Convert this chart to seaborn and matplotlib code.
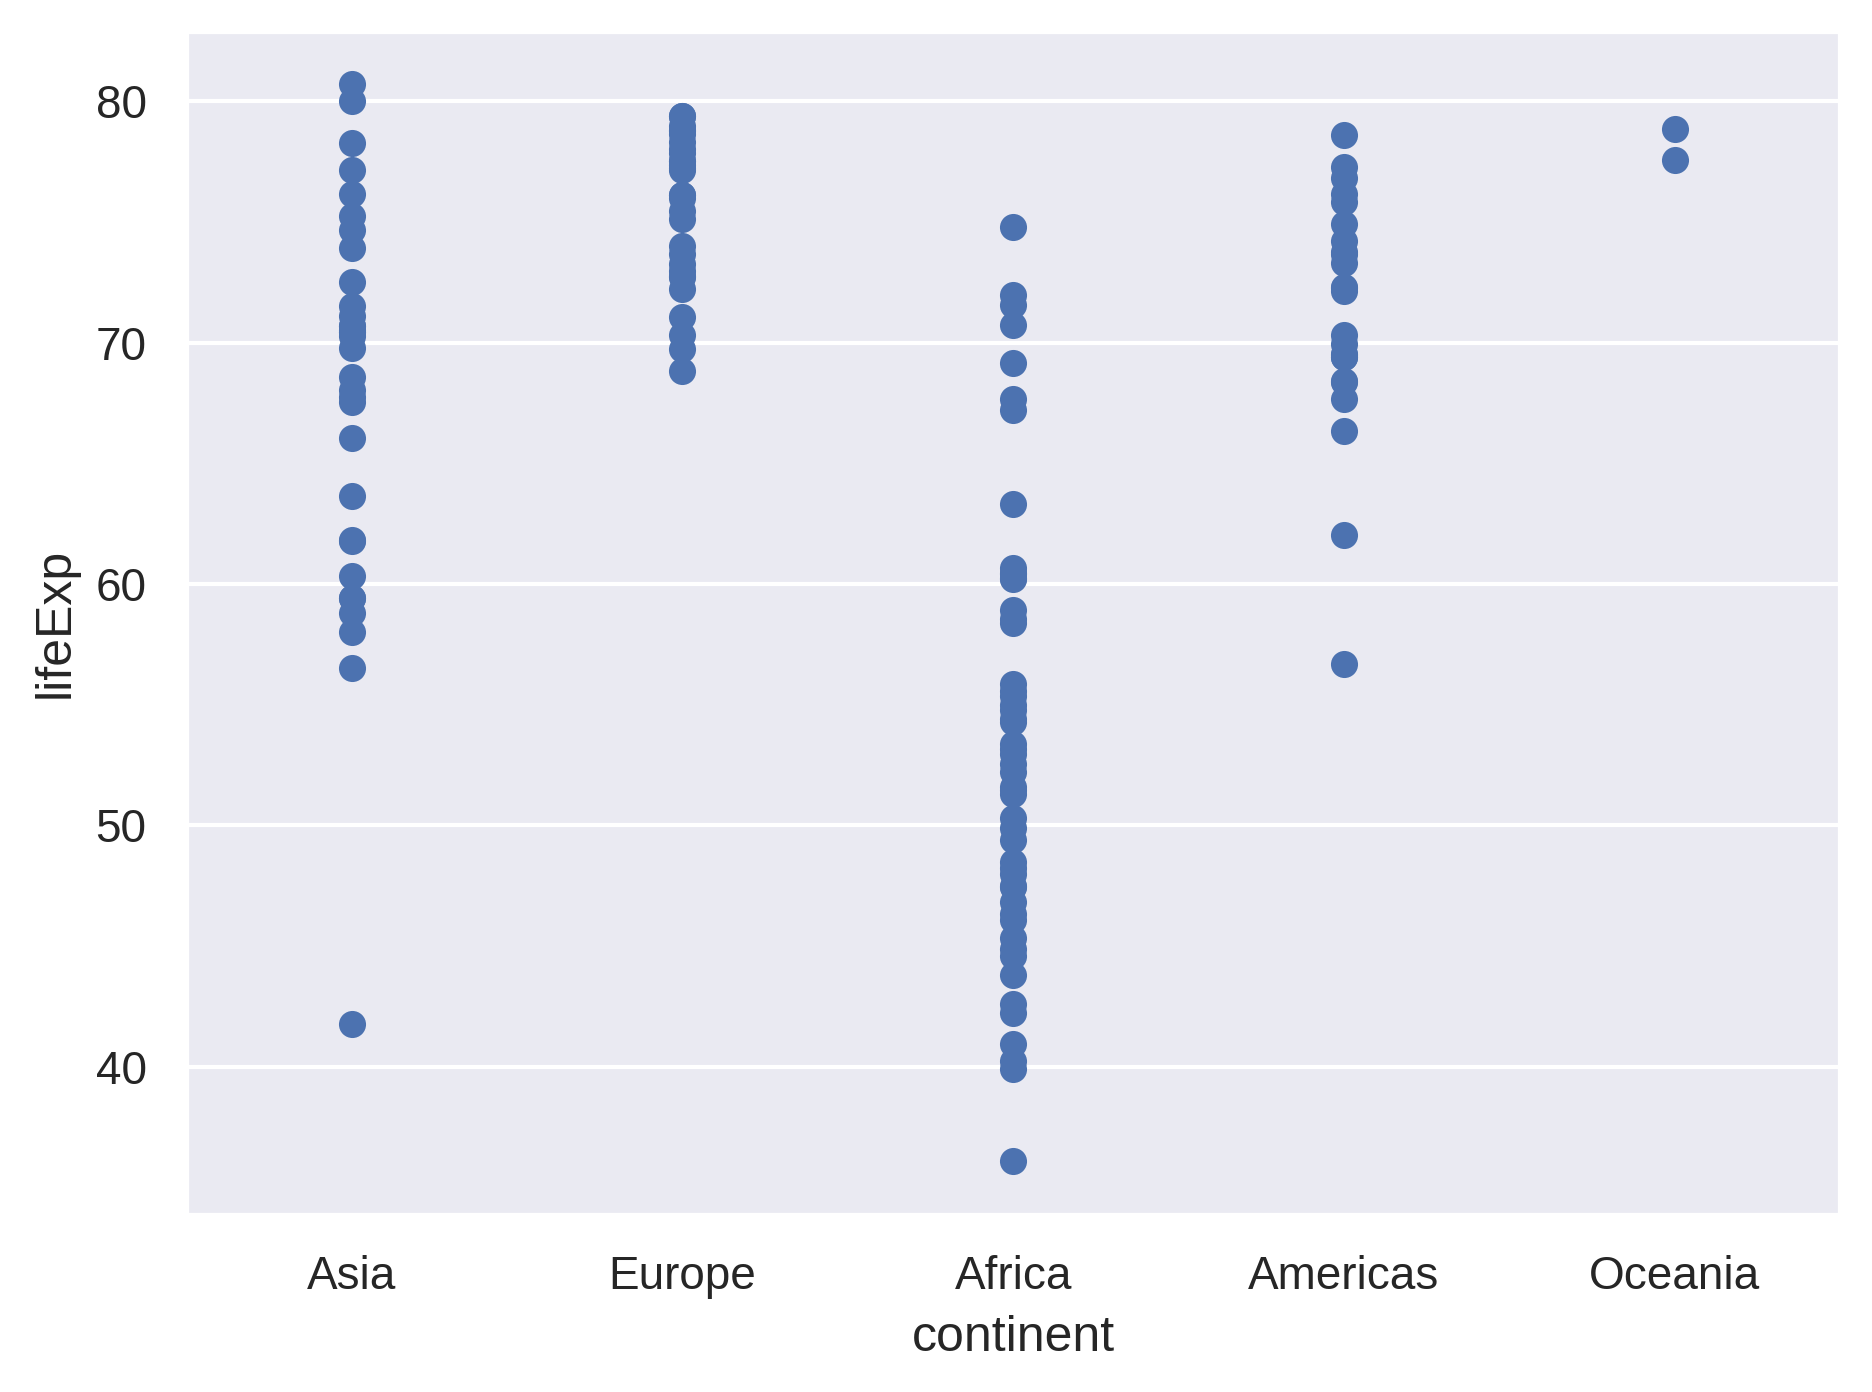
import numpy as np
import pandas as pd
import matplotlib
matplotlib.use("Agg")
import matplotlib.pyplot as plt
import seaborn as sns

# Aspettativa di vita 1997 per continente (gapminder)
ASIA = [41.763, 73.925, 59.412, 56.534, 70.426, 80.000, 61.765, 66.041, 68.042,
        58.811, 78.269, 80.690, 69.772, 67.727, 74.647, 76.156, 70.265, 70.693,
        63.625, 60.328, 59.426, 72.499, 61.818, 68.564, 70.533, 77.158, 70.457,
        71.527, 75.250, 67.521, 70.672, 71.096, 58.020]
EUROPE = [72.950, 77.510, 77.530, 73.244, 70.320, 73.680, 74.010, 76.110, 77.130,
          78.640, 77.340, 77.869, 71.040, 78.950, 76.122, 78.820, 75.445, 78.030,
          78.320, 72.750, 75.970, 69.720, 72.232, 72.710, 75.130, 78.770, 79.390,
          79.370, 68.835, 77.218]
AFRICA = [69.152, 40.963, 54.777, 52.556, 50.324, 45.326, 52.199, 46.066, 51.573,
          60.660, 42.587, 52.962, 47.991, 53.157, 67.217, 48.245, 53.378, 49.402,
          60.461, 55.861, 58.556, 51.455, 44.873, 54.407, 55.558, 42.221, 71.555,
          54.978, 47.495, 49.903, 60.430, 70.736, 67.660, 46.344, 58.909, 51.313,
          47.464, 74.772, 36.087, 63.306, 60.187, 39.897, 43.795, 60.236, 55.373,
          54.289, 48.466, 58.390, 71.973, 44.578, 40.238, 46.809]
AMERICAS = [73.275, 62.050, 69.388, 78.610, 75.816, 70.313, 77.260, 76.151, 69.957,
            72.312, 69.535, 66.322, 56.671, 67.659, 72.262, 73.670, 68.426, 73.738,
            69.400, 68.386, 74.917, 69.465, 76.810, 74.223, 72.146]
OCEANIA = [78.830, 77.550]

CONTINENTS = ["Asia", "Europe", "Africa", "Americas", "Oceania"]
VALUES = [ASIA, EUROPE, AFRICA, AMERICAS, OCEANIA]

df = pd.DataFrame({
    "continent": np.repeat(CONTINENTS, [len(v) for v in VALUES]),
    "lifeExp": np.concatenate(VALUES),
})

sns.set_theme(style="darkgrid")
plt.rcParams["font.family"] = ["Liberation Sans", "DejaVu Sans"]

fig = plt.figure(figsize=(6.24, 4.64), dpi=300)
ax = fig.add_axes([0.0995, 0.127, 0.8835, 0.851])
sns.stripplot(data=df, x="continent", y="lifeExp", jitter=False, size=6.5,
              order=CONTINENTS, ax=ax)
ax.set_yticks([40, 50, 60, 70, 80])
ax.tick_params(labelsize=11)
ax.set_xlabel("continent", fontsize=12, labelpad=4)
ax.set_ylabel("lifeExp", fontsize=12)

fig.savefig("out.png", dpi=300)
